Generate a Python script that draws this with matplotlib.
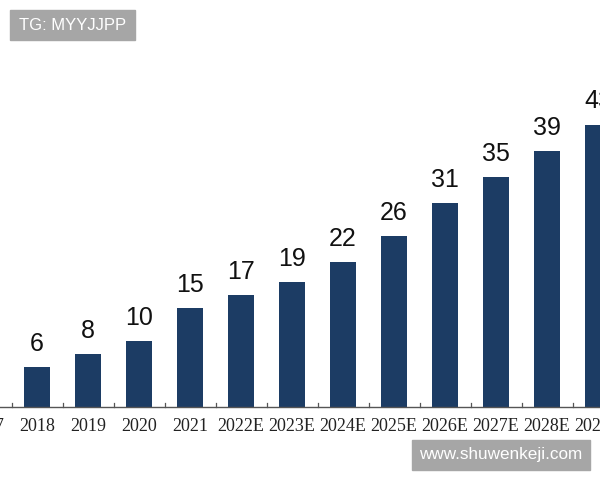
import matplotlib
matplotlib.use("Agg")
import matplotlib.pyplot as plt
from matplotlib.patches import Rectangle

years = ["2017", "2018", "2019", "2020", "2021", "2022E", "2023E", "2024E",
         "2025E", "2026E", "2027E", "2028E", "2029E"]
values = [4, 6, 8, 10, 15, 17, 19, 22, 26, 31, 35, 39, 43]

fig = plt.figure(figsize=(6, 4.8), dpi=100)
ax = fig.add_axes([0, 0, 1, 1])
x = list(range(len(years)))
bar_color = "#1c3c64"
ax.bar(x, values, width=0.51, color=bar_color, zorder=2)

for xi, v in zip(x, values):
    ax.annotate(str(v), (xi, v), xytext=(0, 8), textcoords="offset points",
                ha="center", va="bottom", fontsize=18, family="Liberation Sans",
                color="#111111")

# axis line
ax.axhline(0, color="#555555", lw=1.0, zorder=3)
for b in [i + 0.5 for i in range(-1, len(years))]:
    ax.plot([b, b], [0, 0.6], color="#555555", lw=0.9, zorder=3)
for xi, lab in zip(x, years):
    ax.text(xi, -3.0, lab, ha="center", va="center", fontsize=13,
            family="Liberation Serif", color="#222222")

ax.set_xlim(0.2745, 12.039)
ax.set_ylim(-11.2, 62.0)
ax.axis("off")

# watermarks
fig.patches.append(Rectangle((10 / 600, 1 - 40 / 480), 125 / 600, 30 / 480,
                             transform=fig.transFigure, color="#a6a6a6", zorder=10))
fig.text(72.5 / 600, 1 - 25 / 480, "TG: MYYJJPP", ha="center", va="center",
         color="white", fontsize=12, family="Liberation Sans", zorder=11)
fig.patches.append(Rectangle((412 / 600, 1 - 470 / 480), 178 / 600, 30 / 480,
                             transform=fig.transFigure, color="#a6a6a6", zorder=10))
fig.text(501 / 600, 1 - 455 / 480, "www.shuwenkeji.com", ha="center", va="center",
         color="white", fontsize=12.3, family="Liberation Sans", zorder=11)

fig.savefig("out.png", dpi=100)
